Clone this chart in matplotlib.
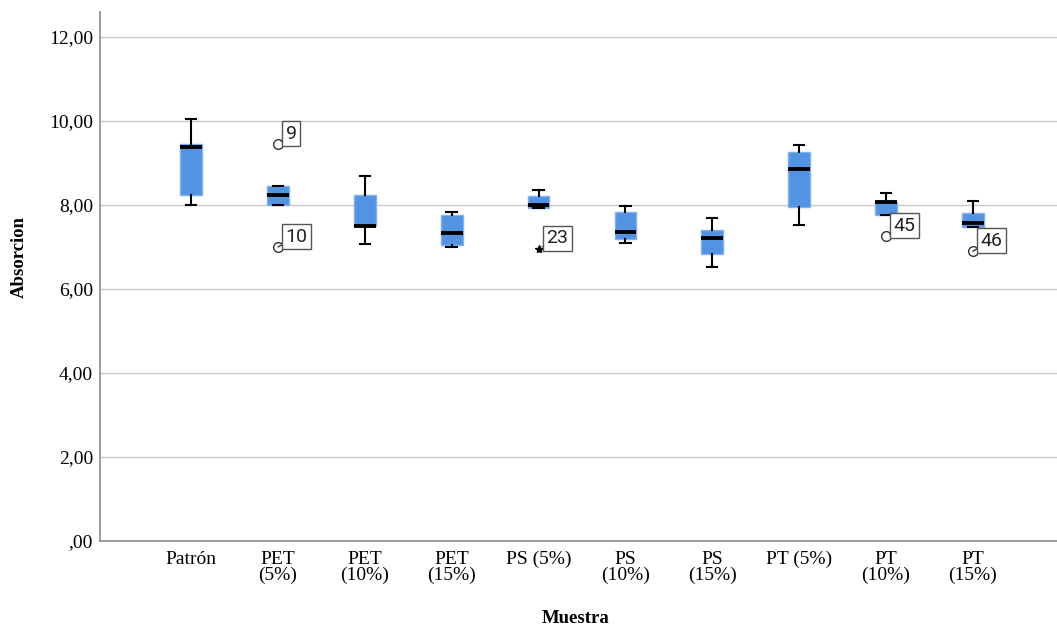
import matplotlib
matplotlib.use("Agg")
import matplotlib.pyplot as plt
from matplotlib.ticker import FuncFormatter

plt.rcParams["font.family"] = ["Liberation Serif", "DejaVu Serif"]

# ===== Data (Absorcion por muestra) =====
muestras = ["Patrón", "PET\n(5%)", "PET\n(10%)", "PET\n(15%)", "PS (5%)",
            "PS\n(10%)", "PS\n(15%)", "PT (5%)", "PT\n(10%)", "PT\n(15%)"]
whis_low = [8.01, 8.01, 7.06, 6.99, 7.92, 7.10, 6.52, 7.52, 7.76, 7.48]
q1 = [8.23, 8.01, 7.49, 7.04, 7.92, 7.20, 6.84, 7.95, 7.76, 7.48]
median = [9.38, 8.23, 7.49, 7.34, 8.00, 7.35, 7.22, 8.85, 8.06, 7.57]
q3 = [9.45, 8.45, 8.23, 7.76, 8.22, 7.84, 7.40, 9.27, 8.06, 7.82]
whis_high = [10.04, 8.45, 8.69, 7.84, 8.35, 7.97, 7.68, 9.44, 8.29, 8.10]

# outliers: (group index, value, case id, extreme?)
outliers = [(1, 9.45, "9", False), (1, 7.00, "10", False),
            (4, 6.96, "23", True), (8, 7.26, "45", False),
            (9, 6.90, "46", False)]

stats = []
for i in range(len(muestras)):
    stats.append({"whislo": whis_low[i], "q1": q1[i], "med": median[i],
                  "q3": q3[i], "whishi": whis_high[i], "fliers": []})

# ===== Plot =====
fig = plt.figure(figsize=(10.57, 6.26), dpi=100)
ax = fig.add_axes([0.0946, 0.136, 0.9054, 0.845])

ax.bxp(stats, positions=range(len(muestras)), widths=0.25, capwidths=0.12,
       patch_artist=True, showfliers=False,
       boxprops=dict(facecolor="#5294e2", edgecolor="#7fb2ee", linewidth=1),
       medianprops=dict(color="black", linewidth=2.8),
       whiskerprops=dict(color="black", linewidth=1.5),
       capprops=dict(color="black", linewidth=1.5))

for g, val, case, extreme in outliers:
    if extreme:
        ax.plot(g, val, marker="*", color="black", markersize=6, zorder=4)
    else:
        ax.plot(g, val, marker="o", markerfacecolor="white",
                markeredgecolor="#333333", markersize=7, zorder=4)
    # case number in a small box, tied to the marker by a short line
    ax.annotate(case, (g, val), xytext=(5.5, 1.0), textcoords="offset points",
                ha="left", va="bottom", fontsize=14, family="Roboto",
                color="#222222", zorder=5,
                bbox=dict(boxstyle="square,pad=0.18", facecolor="white",
                          edgecolor="#555555", linewidth=1),
                arrowprops=dict(arrowstyle="-", color="#333333", lw=1,
                                shrinkA=0, shrinkB=3))

ax.set_xlim(-1.05, 9.97)
ax.set_ylim(0, 12.6)
ax.set_yticks([0, 2, 4, 6, 8, 10, 12])
ax.yaxis.set_major_formatter(
    FuncFormatter(lambda v, p: ("%d,00" % v) if v else ",00"))
ax.set_xticks(range(len(muestras)))
ax.set_xticklabels(muestras, fontsize=14, linespacing=0.95)
ax.tick_params(axis="y", labelsize=14, length=0, pad=5)
ax.tick_params(axis="x", length=0, pad=7)

ax.grid(axis="y", color="#c8c8c8", linewidth=1)
ax.set_axisbelow(True)
for side in ["top", "right"]:
    ax.spines[side].set_visible(False)
for side in ["left", "bottom"]:
    ax.spines[side].set_color("#8c8c8c")
    ax.spines[side].set_linewidth(1.2)

ax.set_ylabel("Absorcion", fontsize=13.5, fontweight="bold")
ax.set_xlabel("Muestra", fontsize=13.5, fontweight="bold")
ax.yaxis.set_label_coords(-0.075, 0.536)
ax.xaxis.set_label_coords(0.4965, -0.131)

fig.savefig("out.png", dpi=100)
